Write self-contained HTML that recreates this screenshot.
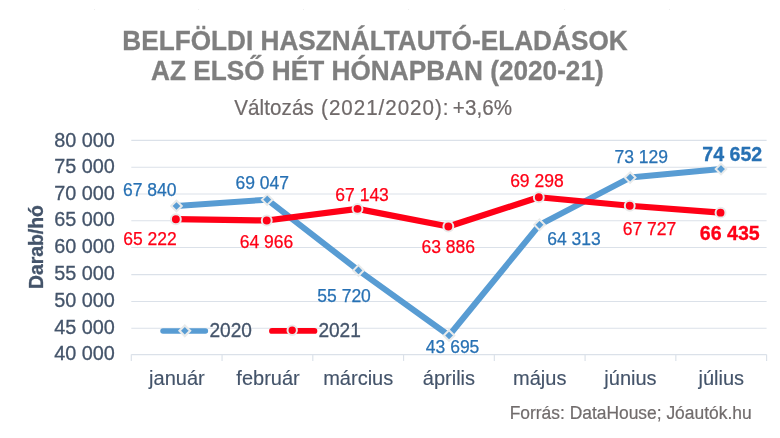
<!DOCTYPE html>
<html lang="hu">
<head>
<meta charset="utf-8">
<title>Belföldi használtautó-eladások az első hét hónapban (2020-21)</title>
<style>
html,body{margin:0;padding:0;background:#fff;}
body{width:780px;height:438px;overflow:hidden;}
svg{display:block;}
text{font-family:"Liberation Sans",Arial,Helvetica,sans-serif;}
.t{font-weight:bold;font-size:26.2px;fill:#7f7f7f;stroke:#7f7f7f;stroke-width:0.3px;text-anchor:middle;}
.s{font-size:20.6px;fill:#706a6a;stroke:#706a6a;stroke-width:0.2px;}
.ax{font-size:19.85px;fill:#44546a;stroke:#44546a;stroke-width:0.3px;}
.yl{text-anchor:end;}
.xl{text-anchor:middle;font-size:20.0px;stroke-width:0.15px;}
.b{font-size:17.5px;fill:#2771b4;stroke:#2771b4;stroke-width:0.25px;text-anchor:middle;}
.r{font-size:17.5px;fill:#ff0016;stroke:#ff0016;stroke-width:0.25px;text-anchor:middle;}
.big{font-size:19.6px;font-weight:bold;stroke-width:0.3px;}
.src{font-size:17.42px;fill:#716c6c;stroke:#716c6c;stroke-width:0.2px;text-anchor:end;}
.yt{font-size:19.4px;font-weight:bold;fill:#44546a;stroke:#44546a;stroke-width:0.3px;text-anchor:middle;}
.lg{font-size:19.1px;fill:#44546a;stroke:#44546a;stroke-width:0.3px;}
</style>
</head>
<body>
<svg width="780" height="438" viewBox="0 0 780 438">
<rect width="780" height="438" fill="#ffffff"/>
<g fill="#eeeeee"><rect x="94" y="9" width="1" height="1"/><rect x="198" y="9" width="1" height="1"/><rect x="303" y="9" width="1" height="1"/><rect x="408" y="9" width="1" height="1"/><rect x="564" y="9" width="1" height="1"/><rect x="669" y="9" width="1" height="1"/></g>
<text class="t" transform="translate(375 50.35) scale(1 1.035)">BELFÖLDI HASZNÁLTAUTÓ-ELADÁSOK</text>
<text class="t" transform="translate(377.4 79.7) scale(1 1.035)">AZ ELSŐ HÉT HÓNAPBAN (2020-21)</text>
<text class="s" transform="translate(0 114.8) scale(1 1.04)"><tspan x="234.2" style="letter-spacing:0.1px">Változás </tspan><tspan x="321.1" style="letter-spacing:0.97px">(2021/2020): </tspan><tspan x="452.8" style="letter-spacing:0.11px">+3,6%</tspan></text>
<g stroke="#dbe1e9" stroke-width="1.15" fill="none">
<line x1="131.3" y1="140.4" x2="766.6" y2="140.4"/>
<line x1="131.3" y1="167.2" x2="766.6" y2="167.2"/>
<line x1="131.3" y1="193.95" x2="766.6" y2="193.95"/>
<line x1="131.3" y1="220.7" x2="766.6" y2="220.7"/>
<line x1="131.3" y1="247.5" x2="766.6" y2="247.5"/>
<line x1="131.3" y1="274.65" x2="766.6" y2="274.65"/>
<line x1="131.3" y1="301.45" x2="766.6" y2="301.45"/>
<line x1="131.3" y1="328.25" x2="766.6" y2="328.25"/>
<line x1="131.3" y1="354.6" x2="766.6" y2="354.6"/>
<line x1="131.3" y1="354.6" x2="131.3" y2="360.9"/>
<line x1="222.06" y1="354.6" x2="222.06" y2="360.9"/>
<line x1="312.81" y1="354.6" x2="312.81" y2="360.9"/>
<line x1="403.57" y1="354.6" x2="403.57" y2="360.9"/>
<line x1="494.33" y1="354.6" x2="494.33" y2="360.9"/>
<line x1="585.09" y1="354.6" x2="585.09" y2="360.9"/>
<line x1="675.84" y1="354.6" x2="675.84" y2="360.9"/>
<line x1="766.6" y1="354.6" x2="766.6" y2="360.9"/>
</g>
<g class="ax yl">
<text transform="translate(114.9 146.95) scale(1 1.06)">80 000</text>
<text transform="translate(114.9 173.33) scale(1 1.06)">75 000</text>
<text transform="translate(114.9 199.86) scale(1 1.06)">70 000</text>
<text transform="translate(114.9 226.49) scale(1 1.06)">65 000</text>
<text transform="translate(114.9 253.22) scale(1 1.06)">60 000</text>
<text transform="translate(114.9 279.95) scale(1 1.06)">55 000</text>
<text transform="translate(114.9 307.48) scale(1 1.06)">50 000</text>
<text transform="translate(114.9 333.91) scale(1 1.06)">45 000</text>
<text transform="translate(114.9 360.04) scale(1 1.06)">40 000</text>
</g>
<g class="ax xl">
<text transform="translate(176.88 384.8) scale(1 1)">január</text>
<text transform="translate(268.04 384.8) scale(1 1)">február</text>
<text transform="translate(358.19 384.8) scale(1 1)">március</text>
<text transform="translate(448.95 384.8) scale(1 1)">április</text>
<text transform="translate(539.71 384.8) scale(1 1)">május</text>
<text transform="translate(630.46 384.8) scale(1 1)">június</text>
<text transform="translate(721.22 384.8) scale(1 1)">július</text>
</g>
<text class="yt" transform="translate(42.9 247.1) rotate(-90)">Darab/hó</text>
<g>
<line x1="163" y1="330.9" x2="205.4" y2="330.9" stroke="#589cd3" stroke-width="5.5" stroke-linecap="round"/>
<path d="M184.8 325.5 l5.3 5.3 l-5.3 5.3 l-5.3 -5.3 Z" fill="#589cd3" stroke="#e9ebeb" stroke-width="2.2"/>
<text class="lg" transform="translate(209.5 337.3) scale(1 1.08)">2020</text>
<line x1="272" y1="330.9" x2="314.4" y2="330.9" stroke="#ff0016" stroke-width="5.9" stroke-linecap="round"/>
<circle cx="292.2" cy="330.3" r="4.7" fill="#ff0016" stroke="#e9ebeb" stroke-width="2"/>
<text class="lg" transform="translate(318.4 337.3) scale(1 1.08)">2021</text>
</g>
<polyline points="176.48,206.02 267.24,199.65 358.49,270.42 449.05,335.51 539.51,224.8 630.16,177.59 721.02,169.04" fill="none" stroke="#589cd3" stroke-width="6.0" stroke-linejoin="round" stroke-linecap="round"/>
<g fill="#589cd3" stroke="#e9ebeb" stroke-width="2.0">
<path d="M176.48 200.72 l5.3 5.3 l-5.3 5.3 l-5.3 -5.3 Z"/>
<path d="M267.24 194.35 l5.3 5.3 l-5.3 5.3 l-5.3 -5.3 Z"/>
<path d="M358.49 265.12 l5.3 5.3 l-5.3 5.3 l-5.3 -5.3 Z"/>
<path d="M449.05 330.21 l5.3 5.3 l-5.3 5.3 l-5.3 -5.3 Z"/>
<path d="M539.51 219.5 l5.3 5.3 l-5.3 5.3 l-5.3 -5.3 Z"/>
<path d="M630.16 172.29 l5.3 5.3 l-5.3 5.3 l-5.3 -5.3 Z"/>
<path d="M721.02 163.74 l5.3 5.3 l-5.3 5.3 l-5.3 -5.3 Z"/>
</g>
<polyline points="175.88,219.19 266.74,220.46 357.49,208.85 448.35,226.44 538.81,197.26 629.76,205.72 720.52,212.64" fill="none" stroke="#ff0016" stroke-width="6.2" stroke-linejoin="round" stroke-linecap="round"/>
<g fill="#ff0016" stroke="#e9ebeb" stroke-width="2.0">
<circle cx="175.88" cy="219.19" r="4.95"/>
<circle cx="266.74" cy="220.46" r="4.95"/>
<circle cx="357.49" cy="208.85" r="4.95"/>
<circle cx="448.35" cy="226.44" r="4.95"/>
<circle cx="538.81" cy="197.26" r="4.95"/>
<circle cx="629.76" cy="205.72" r="4.95"/>
<circle cx="720.52" cy="212.64" r="4.95"/>
</g>
<g class="b">
<text x="149.8" y="195.8">67 840</text>
<text x="262.3" y="188.5">69 047</text>
<text x="344.1" y="301.6">55 720</text>
<text x="452.6" y="353.4">43 695</text>
<text x="574" y="245">64 313</text>
<text x="641.2" y="162.7">73 129</text>
<text class="big" x="732.3" y="160.7">74 652</text>
</g>
<g class="r">
<text x="150" y="244.5">65 222</text>
<text x="266.5" y="247.5">64 966</text>
<text x="362.1" y="200.8">67 143</text>
<text x="448.3" y="252.8">63 886</text>
<text x="536.9" y="186.9">69 298</text>
<text x="649.5" y="234.6">67 727</text>
<text class="big" x="729.8" y="239.7">66 435</text>
</g>
<text class="src" transform="translate(751.6 418.8) scale(1 1.03)">Forrás: DataHouse; Jóautók.hu</text>
</svg>
</body>
</html>
